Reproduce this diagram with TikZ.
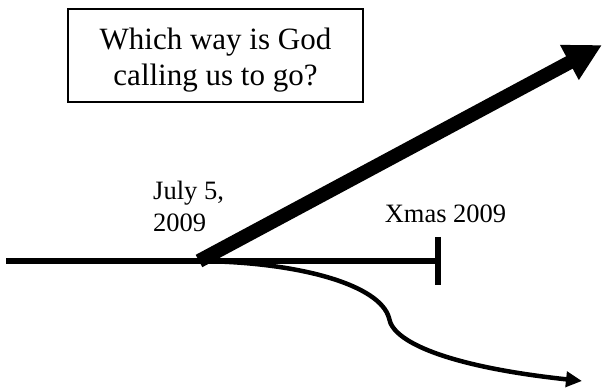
\documentclass[tikz,border=0pt]{standalone}
\usepackage{fontspec}
\setmainfont{Liberation Serif}
\usetikzlibrary{arrows.meta, positioning}
\tikzset{
    % Question box
    qframe/.style={rectangle, draw=black, line width=1.5pt,
                minimum width=295pt, minimum height=93pt},
    qtext/.style={inner sep=0pt, align=center, font=\fontsize{31}{36}\selectfont},
    % Date labels
    datelbl/.style={inner sep=0pt, align=left, font=\fontsize{26.5}{32}\selectfont},
    % Timeline and paths
    tline/.style={line width=5.5pt},
    bigarrow/.style={-{Triangle[length=37pt, width=37pt]}, line width=14pt},
    curvearrow/.style={-{Triangle[length=16pt, width=15pt]}, line width=4.5pt},
}
\begin{document}
\begin{tikzpicture}[x=1pt, y=-1pt]
\useasboundingbox (0,0) rectangle (603,390);
\node[qframe] (qbox) at (215.5,55.5) {};
\node[qtext] (q) at ([yshift=-4.5pt]qbox.center) {Which way is God\\calling us to go?};
\coordinate (start) at (6,261);
\coordinate (fork) at (199,261);
\coordinate (xmas) at (438,261);
\coordinate (xmastop) at (438,237);
\coordinate (xmasbot) at (438,285);
\coordinate (up) at (602,45);
\coordinate (bend) at (389,318);
\coordinate (down) at (582,381);
\draw[tline] (start) -- (xmas);
\draw[tline] (xmastop) -- (xmasbot);
\draw[curvearrow] (fork) .. controls (300,262) and (380,285) .. (bend)
    .. controls (393,345) and (460,368) .. (down);
\draw[bigarrow] (fork) -- (up);
\node[datelbl, anchor=south west] (july) at (153,232) {July 5,\\2009};
\node[datelbl, above=14pt of xmastop, xshift=7.5pt] (xmaslbl) {Xmas 2009};
\end{tikzpicture}
\end{document}
